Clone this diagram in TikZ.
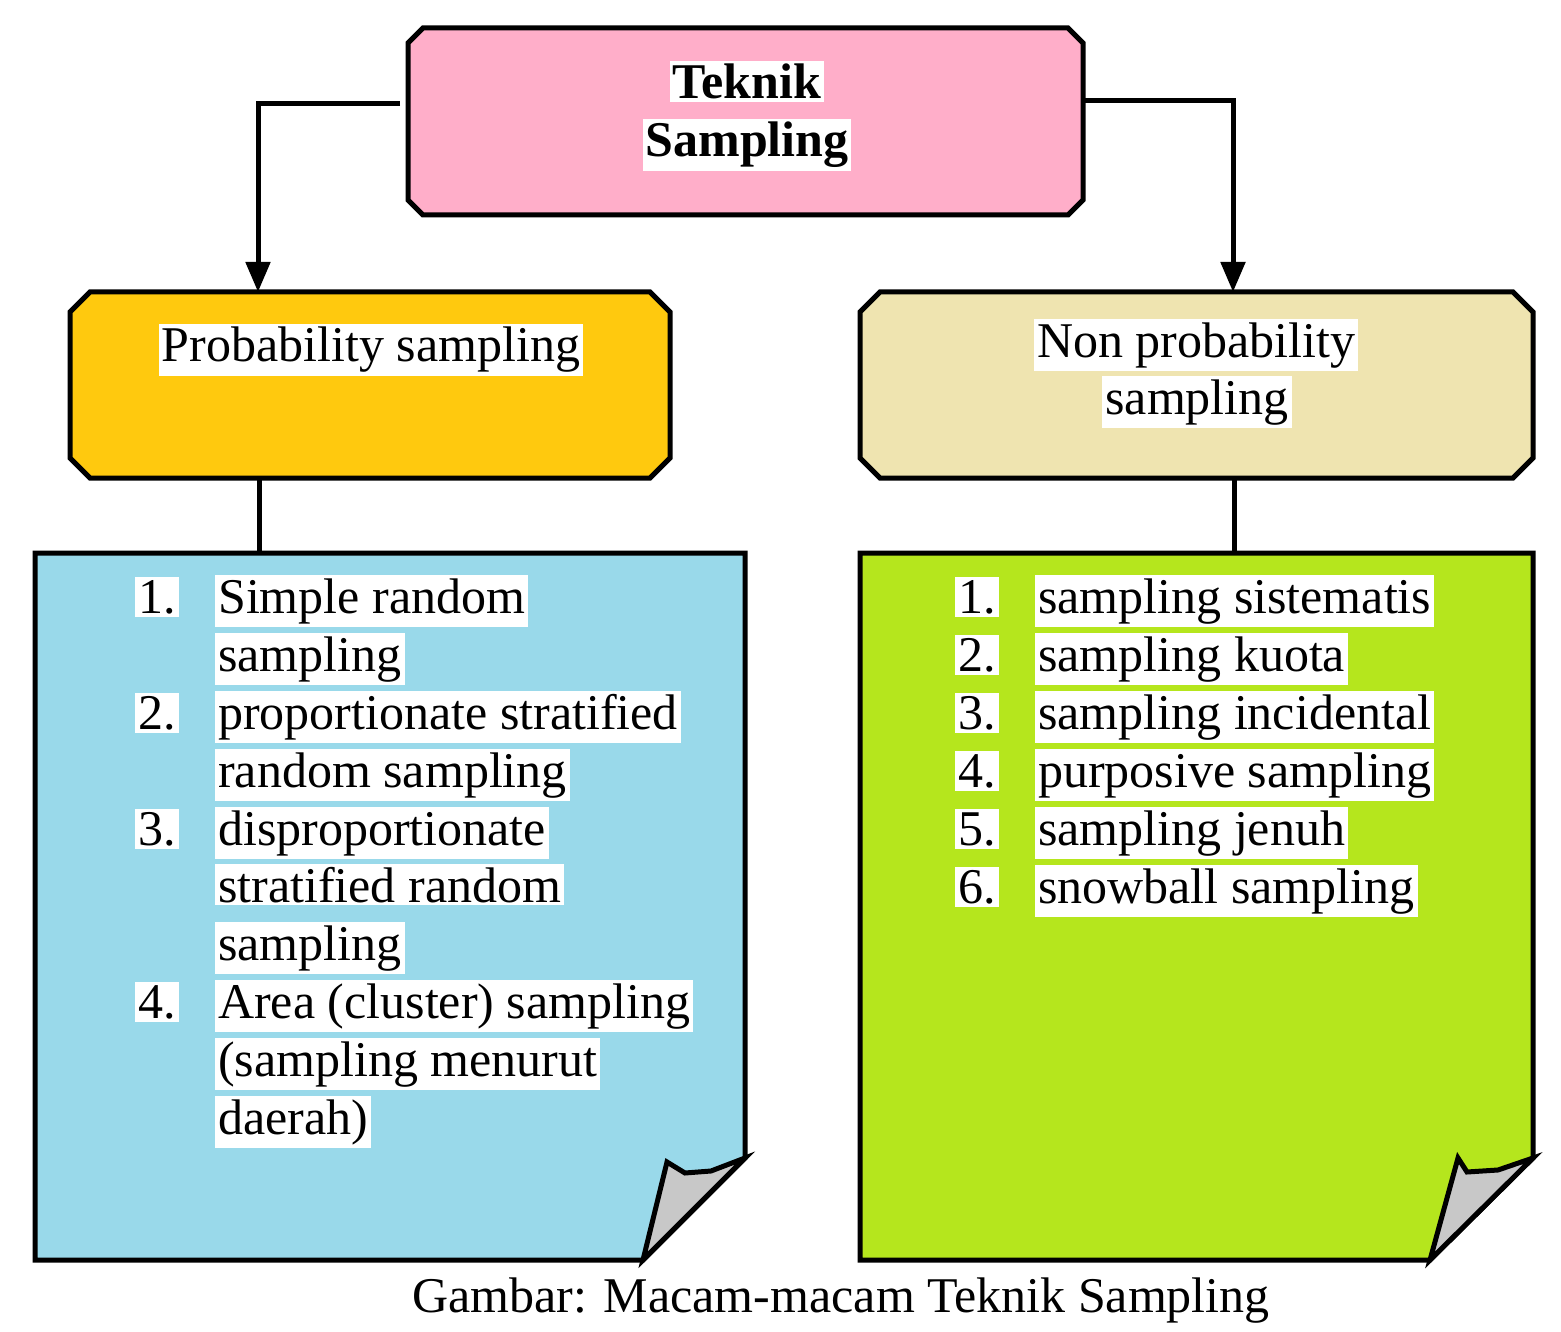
\documentclass[tikz,border=0pt]{standalone}
\usepackage{fontspec}
\setmainfont{Liberation Serif}
\usetikzlibrary{arrows.meta}
\definecolor{pinkc}{HTML}{FFAEC9}
\definecolor{goldc}{HTML}{FFC90E}
\definecolor{beigec}{HTML}{EFE4B0}
\definecolor{bluec}{HTML}{99D9EA}
\definecolor{greenc}{HTML}{B5E61D}
\definecolor{foldc}{HTML}{C8C8C8}
\begin{document}
\begin{tikzpicture}[x=1pt,y=-1pt,
  boxline/.style={line width=5pt, line join=miter},
  noteline/.style={line width=5pt, line join=miter},
  conn/.style={line width=5pt},
  arr/.style={conn,-{Triangle[length=30pt,width=24pt]}},
  txt/.style={fill=white, inner sep=3pt, font=\fontsize{50}{58}\selectfont},
  lt/.style={txt, anchor=base west},
  ct/.style={txt, anchor=base}]
\useasboundingbox (0,0) rectangle (1561,1332);
% top box
\draw[boxline, fill=pinkc] (423,28) -- (1068,28) -- (1083,43) -- (1083,200) -- (1068,215) -- (423,215) -- (408,200) -- (408,43) -- cycle;
% probability box
\draw[boxline, fill=goldc] (90,292) -- (650,292) -- (670,312) -- (670,458) -- (650,478) -- (90,478) -- (70,458) -- (70,312) -- cycle;
% non probability box
\draw[boxline, fill=beigec] (880,292) -- (1513,292) -- (1533,312) -- (1533,458) -- (1513,478) -- (880,478) -- (860,458) -- (860,312) -- cycle;
% notes
\draw[noteline, fill=bluec] (35,553) -- (745,553) -- (745,1158) -- (643,1260) -- (35,1260) -- cycle;
\draw[noteline, fill=foldc] (643,1260) -- (667,1162) -- (685,1173) -- (711,1171) -- (745,1158) -- cycle;
\draw[noteline, fill=greenc] (860,553) -- (1533,553) -- (1533,1158) -- (1430,1260) -- (860,1260) -- cycle;
\draw[noteline, fill=foldc] (1430,1260) -- (1458,1158) -- (1467,1172) -- (1498,1170) -- (1533,1158) -- cycle;
% connector points
\coordinate (tL) at (400,104);
\coordinate (plN) at (258,292);
\coordinate (tR) at (1083,101);
\coordinate (nplN) at (1233,292);
\coordinate (plS) at (259,478);
\coordinate (nL) at (259,553);
\coordinate (nplS) at (1234,478);
\coordinate (nR) at (1234,553);
\draw[arr] (tL) -| (plN);
\draw[arr] (tR) -| (nplN);
\draw[conn] (plS) -- (nL);
\draw[conn] (nplS) -- (nR);
% titles
\node[ct, font=\fontsize{50}{58}\selectfont\bfseries] (t1) at (747,99) {Teknik};
\node[ct, font=\fontsize{50}{58}\selectfont\bfseries] (t2) at (747,157) {Sampling};
\node[ct] (p1) at (371,362) {Probability sampling};
\node[ct] (q1) at (1196,357) {Non probability};
\node[ct] (q2) at (1197,414) {sampling};
% left list
\node[lt] (a1n) at (135,613) {1.};
\node[lt] (a1) at (215,613) {Simple random};
\node[lt] (a1b) at (215,671) {sampling};
\node[lt] (a2n) at (135,729) {2.};
\node[lt] (a2) at (215,729) {proportionate stratified};
\node[lt] (a2b) at (215,787) {random sampling};
\node[lt] (a3n) at (135,845) {3.};
\node[lt] (a3) at (215,845) {disproportionate};
\node[lt] (a3b) at (215,902) {stratified random};
\node[lt] (a3c) at (215,960) {sampling};
\node[lt] (a4n) at (135,1018) {4.};
\node[lt] (a4) at (215,1018) {Area (cluster) sampling};
\node[lt] (a4b) at (215,1076) {(sampling menurut};
\node[lt] (a4c) at (215,1134) {daerah)};
% right list
\node[lt] (b1n) at (955,613) {1.};
\node[lt] (b1) at (1035,613) {sampling sistematis};
\node[lt] (b2n) at (955,671) {2.};
\node[lt] (b2) at (1035,671) {sampling kuota};
\node[lt] (b3n) at (955,729) {3.};
\node[lt] (b3) at (1035,729) {sampling incidental};
\node[lt] (b4n) at (955,787) {4.};
\node[lt] (b4) at (1035,787) {purposive sampling};
\node[lt] (b5n) at (955,845) {5.};
\node[lt] (b5) at (1035,845) {sampling jenuh};
\node[lt] (b6n) at (955,903) {6.};
\node[lt] (b6) at (1035,903) {snowball sampling};
% caption
\node[anchor=base, inner sep=0pt, font=\fontsize{50}{58}\selectfont] (cap) at (841,1312) {Gambar: Macam-macam Teknik Sampling};
\end{tikzpicture}
\end{document}
